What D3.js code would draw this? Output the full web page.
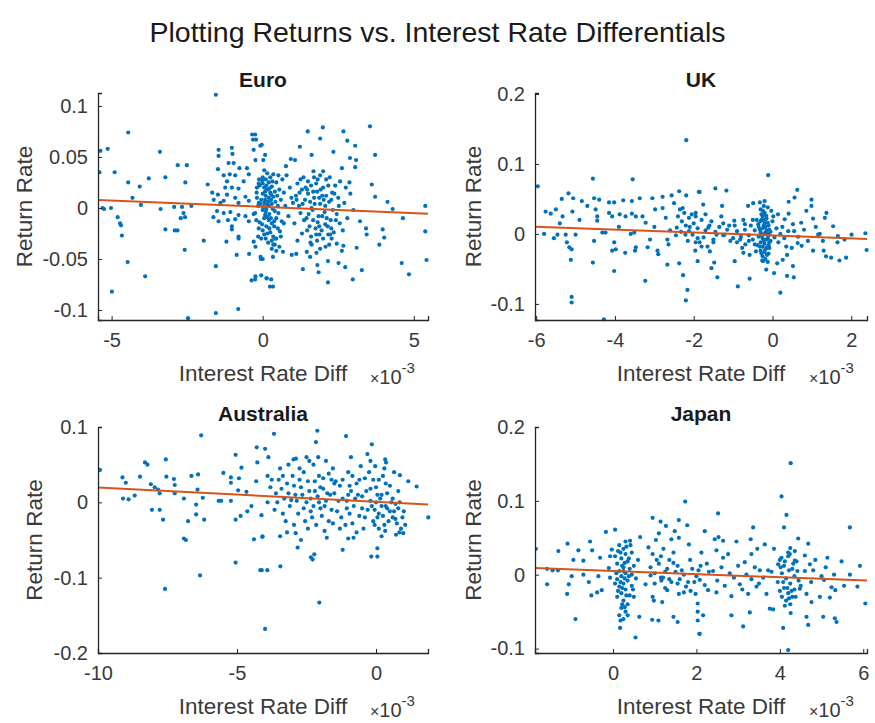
<!DOCTYPE html>
<html>
<head>
<meta charset="utf-8">
<script src="https://cdn.jsdelivr.net/npm/d3@7"></script>
<style>
  html, body { margin: 0; padding: 0; background: #fff; }
  svg { display: block; font-family: "Liberation Sans", Arial, Helvetica, sans-serif; }
</style>
</head>
<body>
<svg id="chart" width="875" height="723"></svg>
<script>
// Interest-rate differential (x, in units of 1e-3) vs. monthly return rate (y)
const euroPoints = [
  [-1.55,0.111],[-4.45,0.074],[-5.13,0.058],[-5.37,0.056],[-3.4,0.055],[-4.9,0.035],[-2.81,0.042],[-2.51,0.042],
  [-4.45,0.025],[-4.07,0.021],[-3.77,0.029],[-3.22,0.030],[-2.56,0.025],[-1.82,0.023],[-4.31,0.010],[-4.03,0.003],
  [-5.25,-0.001],[-5.02,0.0],[-3.38,-0.001],[-2.93,0.001],[-2.67,0.001],[-2.36,0.002],[-4.8,-0.009],[-4.72,-0.015],
  [-4.69,-0.017],[-4.66,-0.027],[-2.62,-0.005],[-2.71,-0.010],[-2.57,-0.009],[-3.22,-0.021],[-2.91,-0.022],[-2.82,-0.022],
  [-1.95,-0.032],[-2.58,-0.041],[-4.47,-0.053],[-3.89,-0.067],[-4.99,-0.082],[-1.55,-0.057],[-1.55,-0.103],[-0.81,-0.099],
  [-0.86,-0.046],[-0.45,-0.045],[-0.06,-0.05],[-1.2,-0.033],[-0.8,-0.030],[-1.63,-0.009],[-1.67,0.015],[-5.4,0.035],
  [-5.3,0.0],[-2.47,-0.108],
  [-1.46,0.057],[-1.46,0.051],[-1.02,0.059],[-1.0,0.053],[-0.35,0.072],[-0.32,0.067],[-0.08,0.061],[-1.13,0.044],
  [-0.96,0.044],[-0.77,0.039],[-1.48,0.038],[-1.29,0.032],[-1.09,0.033],[-0.91,0.032],[-0.52,0.039],[-0.24,0.047],
  [-1.18,0.026],[-0.63,0.026],[-0.46,0.033],[-1.24,0.020],[-1.02,0.020],[-0.8,0.019],[-1.48,0.013],[-1.18,0.013],
  [-0.91,0.010],[-0.57,0.011],[-1.62,0.008],[-1.4,0.005],[-1.29,0.007],[-0.8,0.005],[-0.46,0.007],[-0.19,0.020],
  [-0.13,0.024],[-0.19,0.010],[-0.13,0.005],[-1.51,-0.003],[-1.29,-0.005],[-1.07,-0.004],[-0.8,-0.007],[-0.57,-0.008],
  [-0.3,-0.006],[-1.46,-0.013],[-1.15,-0.012],[-0.91,-0.011],[-0.46,-0.013],[-0.21,-0.012],[-1.02,-0.021],[-0.8,-0.028],
  [-1.02,-0.018],[-0.13,-0.020],[-0.15,-0.028],[-0.3,-0.033],[-0.24,-0.038],[-0.37,-0.071],[-0.24,-0.067],
  [-0.25,0.072],[-0.22,0.067],[-0.03,0.062],[0.08,0.052],[0.02,0.047],[-0.3,0.057],[0.13,-0.069],[0.24,-0.077],
  [-0.25,-0.070],[-0.05,-0.066],[-0.07,-0.048],
  [1.49,0.075],[1.99,0.079],[2.67,0.075],[3.55,0.080],[1.9,0.068],[2.8,0.066],[3.06,0.061],[1.23,0.060],
  [3.72,0.052],[2.34,0.055],[2.89,0.049],[3.09,0.047],[3.06,0.040],[1.62,0.052],[0.93,0.048],[1.07,0.047],
  [0.77,0.041],[0.52,0.032],[0.79,0.032],[2.62,0.039],[2.56,0.026],[2.87,0.025],[3.61,0.023],[3.72,0.011],
  [4.13,0.006],[4.3,-0.001],[5.38,0.002],[4.64,-0.010],[5.38,-0.023],[5.42,-0.051],[4.6,-0.054],[4.84,-0.065],
  [3.97,-0.021],[4.02,-0.029],[3.86,-0.036],[3.42,-0.020],[3.44,-0.026],[3.22,-0.013],[3.11,-0.039],[3.28,-0.061],
  [2.98,-0.070],[2.73,-0.058],[2.51,-0.054],[2.16,-0.052],[2.16,-0.073],[1.81,-0.056],[1.85,-0.063],[1.33,-0.060],
  [1.11,-0.045],[0.96,-0.046],[0.67,-0.043],[0.34,-0.048],[0.28,-0.070],[0.34,-0.077],[0.13,-0.069],[0.0,-0.050],
  [0.57,-0.023],[0.63,-0.013],[0.41,-0.030],[0.35,-0.036],[2.67,-0.037],[2.62,-0.042],[2.45,-0.035],[2.23,-0.026],
  [1.62,-0.036],[1.46,-0.043],[1.57,-0.048],
  [0.0,0.030],[0.1,0.028],[0.2,0.025],[-0.1,0.022],[0.05,0.020],[0.15,0.018],[0.3,0.021],[0.25,0.015],
  [0.0,0.014],[0.1,0.012],[0.2,0.010],[-0.05,0.008],[0.35,0.011],[0.4,0.016],[0.05,0.005],[0.15,0.003],
  [0.3,0.004],[-0.15,0.002],[0.0,-0.002],[0.1,-0.004],[0.22,-0.006],[0.4,-0.003],[0.5,0.002],[0.05,-0.010],
  [0.2,-0.012],[-0.1,-0.014],[0.3,-0.015],[0.12,-0.018],[0.45,-0.010],[0.0,-0.022],[0.25,-0.024],[0.35,-0.028],
  [0.1,-0.030],[0.18,-0.034],[0.4,-0.036],[0.3,-0.040],[0.45,-0.042],[0.55,-0.038],[0.15,0.034],[0.05,0.037],
  [0.45,0.025],[0.55,0.018],[0.6,0.008],[0.5,-0.020],[-0.2,0.015],[-0.25,-0.005],[0.25,0.030],[0.08,0.016],
  [0.28,0.008],[0.38,-0.018],[0.48,0.012],[0.0,0.024],[0.2,0.002],[-0.05,-0.030],
  [-0.02,0.027],[0.12,0.022],[0.22,0.019],[0.32,0.026],[0.08,0.008],[0.18,0.006],[0.28,0.013],[0.42,0.006],
  [-0.08,0.004],[0.02,0.001],[0.12,-0.001],[0.33,-0.001],[0.08,-0.007],[0.27,-0.010],[0.15,-0.009],[0.38,-0.013],
  [-0.02,-0.016],[0.22,-0.020],[0.05,-0.026],[0.3,-0.032],[0.15,-0.025],[0.45,-0.030],[0.52,-0.005],[-0.12,0.028],
  [0.35,0.033],[0.6,-0.028],[0.65,0.028],[0.7,-0.015],
  [1.0,0.005],[1.1,0.012],[1.2,0.002],[1.3,0.018],[1.4,0.008],[1.5,0.014],[1.6,0.022],[1.7,0.010],
  [1.8,0.016],[1.9,0.004],[2.0,0.020],[2.1,0.012],[2.2,0.006],[2.3,0.015],[1.25,-0.005],[1.45,-0.010],
  [1.65,-0.002],[1.85,-0.008],[2.05,-0.004],[2.25,-0.012],[2.45,-0.006],[1.55,-0.018],[1.75,-0.020],[1.95,-0.022],
  [2.15,-0.018],[2.35,-0.024],[1.6,-0.028],[1.8,-0.032],[2.0,-0.030],[2.2,-0.036],[1.9,-0.040],[1.7,0.030],
  [1.9,0.032],[2.1,0.028],[1.5,0.026],[1.35,0.030],[2.4,0.022],[2.5,0.010],[1.15,0.024],[1.05,-0.015],
  [1.3,-0.025],[2.55,-0.015],[1.72,0.004],[1.82,-0.014],[2.02,0.008],[1.62,0.000],[1.92,0.018],[2.12,-0.010],
  [1.42,0.020],[1.52,-0.006],[2.32,-0.002],[2.0,0.036],[1.78,-0.044],[2.28,-0.030],[1.15,-0.032],[0.9,0.020],
  [0.85,-0.008],[0.75,0.002],[0.7,0.015],[2.7,0.005],[2.8,-0.010],[2.9,0.014],[3.0,-0.002],[2.65,-0.022],[2.75,0.020],
  [1.12,0.008],[1.22,0.015],[1.32,0.004],[1.47,0.018],[1.57,0.006],[1.67,0.016],[1.77,0.024],[1.87,0.010],
  [1.97,0.012],[2.07,0.002],[2.17,0.022],[2.27,0.008],[2.37,0.014],[1.37,-0.012],[1.47,-0.022],[1.67,-0.012],
  [1.77,-0.026],[1.87,-0.018],[1.97,-0.008],[2.07,-0.016],[2.17,-0.026],[2.27,-0.020],[2.42,-0.012],[2.52,0.002],
  [1.58,-0.034],[1.88,-0.026],[2.08,-0.038],[1.68,0.036],[1.82,0.028],[2.22,0.030],[1.25,0.028],[0.95,0.010]
];

const ukPoints = [
  [-2.19,0.134],[-4.56,0.079],[-3.55,0.078],[-5.18,0.058],[-5.35,0.050],[-5.06,0.051],[-4.84,0.047],[-4.53,0.051],
  [-4.4,0.049],[-4.15,0.045],[-4.02,0.045],[-3.79,0.048],[-3.57,0.047],[-3.37,0.051],[-3.05,0.051],[-2.79,0.053],
  [-2.56,0.055],[-2.37,0.061],[-2.19,0.055],[-1.87,0.060],[-5.76,0.032],[-5.63,0.029],[-5.5,0.035],[-5.33,0.025],
  [-5.08,0.032],[-4.49,0.035],[-4.45,0.025],[-4.45,0.019],[-4.15,0.030],[-4.07,0.025],[-3.88,0.028],[-3.73,0.025],
  [-3.57,0.029],[-3.47,0.025],[-3.22,0.016],[-2.98,0.035],[-2.79,0.037],[-2.71,0.023],[-2.5,0.044],[-2.28,0.037],
  [-2.24,0.030],[-2.12,0.023],[-1.95,0.030],[-5.8,0.000],[-5.55,-0.006],[-5.46,-0.001],[-5.25,-0.001],[-5.0,-0.001],
  [-5.22,-0.012],[-5.16,-0.019],[-5.1,-0.022],[-5.12,-0.037],[-5.1,-0.090],[-5.1,-0.098],[-4.56,-0.041],[-4.53,-0.010],
  [-4.32,0.002],[-4.24,0.002],[-4.02,-0.012],[-4.07,-0.024],[-3.98,-0.022],[-4.02,-0.053],[-3.74,-0.027],[-3.6,0.000],
  [-3.51,0.002],[-3.47,-0.019],[-3.49,-0.024],[-3.23,-0.067],[-3.11,-0.008],[-3.17,-0.019],[-2.92,-0.024],[-2.9,-0.029],
  [-2.67,-0.008],[-2.64,-0.015],[-2.67,-0.044],[-2.37,-0.042],[-2.27,-0.059],[-2.16,-0.080],[-2.2,-0.095],[-2.43,0.009],
  [-2.32,0.003],[-2.21,-0.001],[-2.12,0.004],[-2.03,-0.001],[-1.95,-0.012],[-1.9,-0.039],[-1.96,-0.024],[-5.96,0.068],
  [-4.28,-0.122],
  [-0.11,0.084],[-1.85,0.060],[-1.45,0.065],[-1.17,0.062],[0.63,0.063],[0.56,0.052],[0.41,0.046],[0.99,0.049],
  [0.99,0.040],[0.86,0.033],[1.37,0.030],[1.33,0.023],[1.03,0.022],[1.54,0.011],[-1.28,0.040],[-1.76,0.042],
  [-1.25,0.015],[-0.97,0.019],[-0.96,0.012],[-0.74,0.020],[-0.62,0.040],[-0.49,0.044],[-0.2,0.047],[-0.03,0.033],
  [0.14,0.028],[0.31,0.021],[0.41,0.029],[0.52,0.014],[0.73,0.016],[-1.63,0.009],[-1.5,-0.008],[-1.42,-0.001],
  [-1.22,-0.001],[-1.07,-0.010],[-0.82,-0.008],[-0.69,-0.015],[-0.77,-0.020],[-1.59,-0.025],[-1.48,-0.041],[-1.55,-0.049],
  [-1.4,-0.062],[-0.88,-0.075],[-0.58,-0.064],[-0.96,-0.039],[-0.74,-0.027],[-0.58,-0.030],[-0.24,-0.039],[-0.16,-0.051],
  [0.04,-0.056],[0.2,-0.084],[0.12,-0.042],[0.26,-0.037],[0.37,-0.060],[0.54,-0.062],[0.52,-0.046],[0.37,-0.030],
  [0.49,-0.020],[0.64,-0.013],[0.74,-0.017],[1.03,-0.024],[1.3,-0.024],[1.36,-0.032],[1.49,-0.034],[1.7,-0.038],
  [1.87,-0.034],[1.83,-0.008],[2.01,-0.001],[2.36,0.001],[2.39,-0.023],[1.28,-0.010],[1.16,-0.001],[1.66,-0.003],
  [1.65,-0.012],
  [-0.3,0.035],[-0.2,0.030],[-0.25,0.025],[-0.15,0.022],[-0.3,0.018],[-0.2,0.015],[-0.1,0.012],[-0.35,0.010],
  [-0.25,0.008],[-0.15,0.005],[-0.05,0.003],[-0.3,0.002],[-0.2,0.000],[-0.1,-0.002],[-0.35,-0.004],[-0.25,-0.006],
  [-0.15,-0.008],[-0.05,-0.010],[-0.3,-0.012],[-0.2,-0.014],[-0.1,-0.016],[-0.25,-0.018],[-0.15,-0.020],[-0.3,-0.024],
  [-0.2,-0.026],[-0.1,-0.028],[-0.25,-0.032],[-0.18,-0.036],[-0.22,0.040],[-0.12,0.038],[-0.4,0.020],[-0.45,0.005],
  [-0.5,-0.008],[-0.55,0.012],[0.0,0.018],[0.05,-0.005],[0.1,0.008],[-0.6,-0.002],[-0.7,0.006],[-0.8,-0.004],
  [-0.9,0.004],[-1.0,-0.006],[0.2,0.000],[0.3,-0.006],[0.4,0.004],[-0.28,0.028],[-0.18,0.010],[-0.08,-0.020],
  [-0.38,-0.016],[-0.32,0.045],[-0.12,-0.040],[-0.42,-0.025],[0.02,0.025],
  [-0.28,0.020],[-0.22,0.012],[-0.12,0.016],[-0.32,0.006],[-0.18,0.002],[-0.08,0.006],[-0.28,-0.002],[-0.22,-0.010],
  [-0.12,-0.006],[-0.32,-0.018],[-0.18,-0.022],[-0.08,-0.012],[-0.28,-0.028],[-0.14,-0.030],[-0.24,0.033],[-0.16,0.026],
  [-0.26,-0.038],[-0.2,0.020],[-0.1,0.000],[-0.36,0.014],
  [-1.1,0.012],[-0.9,-0.012],[-0.7,0.014],[-0.6,-0.010],[-0.5,0.020],[-0.45,-0.015],[0.15,-0.012],[0.25,0.010],
  [0.35,-0.018],[0.55,0.004],[0.65,-0.004],[0.8,0.006],[0.9,-0.010],[1.1,0.010],[1.2,0.000],
  [-2.0,0.015],[-1.9,0.008],[-1.8,0.020],[-1.7,0.005],[-1.6,0.012],[-1.75,-0.005],[-1.85,-0.012],[-1.65,-0.018],
  [-2.1,0.010],[-1.95,0.025],[-1.55,0.018],[-1.45,0.003],[-1.35,0.010],[-1.25,-0.002],[-1.15,0.006],[-2.3,0.018],
  [-2.4,0.025],[-1.9,-0.006],
  [-2.6,0.005],[-2.45,-0.002],[-2.2,0.012],[-2.05,0.028],[-1.8,-0.018],[-1.7,0.028],[-1.5,-0.012],[-1.3,0.025],
  [-2.35,0.035],[-2.15,-0.010],[-3.0,0.010],[-3.3,0.025],[-3.9,0.010],[-4.7,0.040],[-4.9,0.020],[-5.4,0.015]
];

const ausPoints = [
  [-6.29,0.089],[-7.56,0.057],[-8.31,0.053],[-8.22,0.050],[-9.93,0.043],[-9.12,0.033],[-9.0,0.026],[-8.49,0.034],
  [-8.1,0.024],[-7.96,0.020],[-7.84,0.017],[-7.54,0.034],[-7.27,0.031],[-7.24,0.023],[-6.64,0.035],[-6.4,0.037],
  [-6.42,0.017],[-5.49,0.039],[-5.22,0.033],[-5.22,0.026],[-4.93,0.032],[-4.84,0.046],[-5.05,0.063],[-4.29,0.073],
  [-4.27,0.053],[-9.1,0.005],[-8.9,0.004],[-8.68,0.009],[-7.78,0.012],[-7.24,0.012],[-6.91,0.005],[-6.23,0.006],
  [-6.47,-0.003],[-5.66,0.002],[-5.57,0.002],[-5.22,0.002],[-4.96,0.016],[-4.66,0.014],[-8.06,-0.010],[-7.78,-0.010],
  [-7.66,-0.023],[-6.47,-0.016],[-6.76,-0.025],[-6.18,-0.023],[-6.91,-0.048],[-6.84,-0.050],[-5.05,-0.023],[-4.87,-0.018],
  [-4.63,-0.012],[-4.48,-0.005],[-4.12,-0.017],[-4.39,-0.049],[-4.09,-0.046],[-5.05,-0.080],[-4.16,-0.090],[-6.33,-0.097],
  [-7.59,-0.115],[-3.99,-0.168],[-4.31,0.028],
  [-3.67,0.091],[-2.11,0.095],[-1.08,0.088],[-2.16,0.080],[-0.15,0.077],[-0.31,0.064],[-3.99,0.071],[-3.87,0.060],
  [-2.97,0.057],[-2.88,0.058],[-2.4,0.055],[-2.08,0.060],[0.33,0.057],[0.36,0.053],[-0.03,0.048],[0.86,0.036],
  [1.16,0.028],[1.46,0.021],[1.88,-0.020],[-0.17,-0.072],[0.05,-0.072],[0.05,-0.061],[-1.2,-0.063],[-2.28,-0.076],
  [-2.34,-0.073],[-2.22,-0.069],[-2.82,-0.060],[-3.44,-0.085],[-3.91,-0.090],[-4.11,-0.090],[-2.04,-0.133],[-4.08,-0.045],
  [-3.45,-0.045],[-1.77,-0.047],[-0.81,-0.047],[0.84,-0.040],[0.98,-0.041],[0.72,-0.043],[0.33,-0.038],[-2.89,-0.041],
  [-3.8,0.020],[-3.6,0.012],[-3.5,0.030],[-3.4,0.018],[-3.3,0.005],[-3.2,0.025],[-3.1,-0.005],[-3.0,0.035],
  [-2.9,0.010],[-2.8,-0.015],[-2.7,0.020],[-2.6,0.040],[-2.5,0.000],[-2.4,0.015],[-2.3,-0.020],[-2.2,0.028],
  [-2.1,0.008],[-2.0,-0.008],[-1.9,0.018],[-1.8,0.002],[-1.7,-0.025],[-1.6,0.030],[-1.5,0.012],[-1.4,-0.012],
  [-1.3,0.022],[-1.2,0.005],[-1.1,-0.030],[-1.0,0.040],[-0.9,0.015],[-0.8,-0.005],[-0.7,0.025],[-0.6,-0.018],
  [-0.5,0.008],[-0.4,0.032],[-0.3,-0.010],[-0.2,0.018],[-0.1,-0.025],[0.0,0.000],[0.1,-0.015],[0.2,0.010],
  [0.3,-0.030],[0.4,-0.008],[0.5,0.022],[0.6,-0.020],[0.7,-0.002],[0.8,0.015],[0.9,-0.035],[1.0,-0.012],
  [-0.05,-0.010],[0.05,-0.020],[0.15,0.005],[-0.15,-0.005],[0.25,-0.018],[0.35,-0.005],[0.45,-0.025],[0.55,0.000],
  [0.65,-0.012],[0.75,-0.028],[-2.15,-0.030],[-2.45,-0.035],[-1.85,-0.038],[-1.55,0.045],[-2.75,0.045],[-3.25,-0.025],
  [-3.65,-0.010],[-3.9,0.000],[-1.25,-0.020],[-0.85,0.035],[-0.45,-0.035],[-2.05,0.035],[-1.65,0.010],[-2.35,0.005],
  [-2.55,-0.025],[-1.05,0.002],[-0.65,0.010],[-0.25,0.040],[0.1,0.030],[0.3,0.045],[-2.95,-0.030],[-3.45,0.045],
  [-2.25,0.050],[-1.45,0.028],[-1.95,-0.018],[-0.95,-0.015],[-0.55,0.048],[0.0,0.020],[-3.15,0.050],
  [-3.75,0.030],[-3.55,0.000],[-3.35,0.035],[-3.15,0.012],[-2.95,0.022],[-2.85,0.002],[-2.65,0.010],[-2.45,0.028],
  [-2.35,-0.012],[-2.2,0.015],[-2.05,0.000],[-1.9,0.032],[-1.75,0.012],[-1.6,-0.010],[-1.5,0.025],[-1.35,0.002],
  [-1.2,0.030],[-1.05,-0.008],[-0.95,0.022],[-0.75,0.005],[-0.6,0.030],[-0.5,-0.008],[-0.35,0.015],[-0.2,0.002],
  [-0.1,0.030],[0.05,0.010],[0.2,-0.005],[0.35,0.025],[0.5,-0.012],[0.6,0.005],[0.7,-0.022],[0.85,0.000],
  [0.95,-0.020],[-0.05,-0.030],[0.1,-0.035],[-2.6,-0.008],[-2.0,0.020],[-1.85,-0.005],[-1.3,-0.035],[-0.85,-0.028],
  [-2.75,0.030],[-3.35,-0.015],[-1.7,0.038],[-1.0,0.010],[-0.4,-0.020],[0.25,0.035],[-3.05,0.003],[-2.25,-0.005],
  [-1.55,-0.028],[-0.7,-0.040],[0.4,0.012],[0.8,-0.008],[1.05,-0.030],[-3.9,0.035],[-2.5,0.060],[-1.8,0.055],
  [-0.9,0.060],[-0.2,0.055],[-3.2,-0.040],[-2.7,-0.050],[-1.0,-0.048],[0.2,-0.045],[0.65,0.040]
];

const jpnPoints = [
  [1.73,0.099],[0.95,0.077],[1.14,0.072],[1.27,0.066],[1.58,0.074],[1.78,0.067],[1.1,0.056],[1.48,0.059],
  [-0.17,0.058],[0.05,0.061],[-0.55,0.045],[-0.83,0.033],[-1.09,0.042],[-1.31,0.032],[-0.71,0.019],[-0.95,0.020],
  [-0.5,0.033],[-0.31,0.023],[-0.03,0.034],[-0.07,0.025],[0.41,0.046],[0.65,0.051],[0.85,0.037],[1.03,0.047],
  [1.21,0.035],[1.4,0.048],[1.58,0.050],[1.82,0.041],[-1.58,0.008],[-1.45,0.006],[-1.32,0.006],[-0.99,-0.002],
  [-0.71,0.000],[-0.35,-0.002],[-0.1,0.009],[-1.58,-0.013],[-1.06,-0.013],[-0.58,-0.010],[-0.07,-0.004],[-1.1,-0.026],
  [-0.52,-0.028],[-0.38,-0.024],[-0.27,-0.021],[-0.9,-0.060],[0.17,-0.072],[0.54,-0.085],[0.63,-0.057],[0.94,-0.061],
  [1.09,-0.062],[1.45,-0.057],[1.55,-0.064],[2.03,-0.062],[2.07,-0.080],[0.98,-0.035],[0.95,-0.030],[1.18,-0.037],
  [0.78,-0.013],[0.9,-0.001],[1.16,-0.008],[1.3,-0.021],[1.58,-0.026],[1.7,-0.024],[1.86,-0.022],[1.98,-0.026],
  [2.03,-0.039],[2.03,-0.050],[-1.85,0.035],
  [0.15,0.040],[0.25,0.035],[0.3,0.028],[0.2,0.022],[0.35,0.018],[0.1,0.015],[0.25,0.010],[0.4,0.008],
  [0.15,0.005],[0.3,0.002],[0.2,-0.002],[0.1,-0.006],[0.35,-0.008],[0.25,-0.012],[0.15,-0.016],[0.3,-0.020],
  [0.2,-0.025],[0.4,-0.028],[0.1,-0.030],[0.25,-0.035],[0.35,-0.040],[0.2,-0.045],[0.3,-0.050],[0.15,-0.055],
  [0.25,-0.060],[0.3,0.045],[0.45,0.030],[0.45,0.000],[0.45,-0.015],[0.05,0.025],[0.05,-0.012],[0.5,0.012],
  [0.55,-0.005],[0.5,-0.030],[0.6,0.020],[0.18,0.030],[0.28,-0.005],[0.38,0.022],[0.22,-0.040],
  [0.12,0.032],[0.22,0.012],[0.32,0.038],[0.18,-0.010],[0.28,0.016],[0.38,-0.002],[0.12,-0.022],[0.32,-0.028],
  [0.22,-0.018],[0.28,-0.044],[0.18,-0.062],[0.35,-0.055],[0.42,0.040],[0.08,0.002],[0.48,-0.020],[0.25,0.005],
  [0.9,0.010],[1.0,0.002],[1.1,0.015],[1.2,-0.004],[1.3,0.008],[1.4,-0.010],[1.5,0.004],[1.6,-0.006],
  [1.0,-0.012],[1.15,0.025],[1.35,0.020],[1.55,0.012],[1.7,0.000],[1.8,-0.010],[1.9,0.008],[2.0,-0.002],
  [2.1,0.012],[2.2,-0.014],[2.3,0.004],[1.25,-0.018],[0.95,0.028],[1.45,0.030],
  [1.05,0.020],[1.25,0.004],[1.45,0.016],[1.65,0.006],[1.85,0.020],[2.05,0.006],[1.35,-0.006],[1.55,-0.012],
  [1.75,-0.016],[1.95,-0.010],[1.15,-0.004],[2.25,0.015],[2.4,0.005],[2.6,0.010],[2.8,0.002],[3.0,0.012],
  [3.2,0.000],[3.4,0.010],[3.6,-0.004],[3.8,0.004],[2.5,-0.008],[2.9,-0.004],[3.1,-0.020],[3.5,-0.012],
  [4.26,0.151],[4.04,0.106],[4.16,0.081],[4.1,0.064],[5.68,0.064],[2.52,0.083],[3.36,0.064],[4.44,0.049],
  [4.68,0.042],[2.2,0.059],[2.44,0.048],[2.53,0.051],[2.64,0.046],[2.96,0.045],[3.3,0.048],[3.46,0.035],
  [3.64,0.041],[3.86,0.035],[2.12,0.030],[2.48,0.033],[2.64,0.023],[2.76,0.028],[3.16,0.017],[3.32,0.028],
  [3.52,0.006],[3.72,0.006],[3.96,0.014],[4.04,0.023],[4.24,0.028],[4.36,0.019],[4.36,0.032],[4.6,0.026],
  [4.72,0.014],[4.8,0.006],[5.14,0.023],[5.48,0.018],[5.92,0.012],[5.06,-0.007],[5.24,-0.017],[5.33,-0.021],
  [5.54,-0.015],[5.68,0.000],[5.86,-0.016],[6.05,-0.039],[2.08,-0.007],[2.28,-0.021],[2.48,-0.024],[2.68,-0.015],
  [2.84,-0.029],[3.04,-0.013],[3.24,-0.026],[3.32,-0.006],[3.44,-0.016],[3.68,-0.026],[3.76,-0.046],[3.84,-0.047],
  [2.84,-0.055],[2.16,-0.055],[2.08,-0.080],[3.12,-0.070],[3.28,-0.051],[4.08,-0.072],[4.26,-0.052],[4.64,-0.057],
  [4.68,-0.068],[4.76,-0.037],[5.04,-0.057],[5.32,-0.059],[5.36,-0.064],[4.96,-0.030],[5.2,-0.031],[4.48,-0.019],
  [4.64,-0.026],[4.2,-0.102],
  [4.0,0.020],[4.1,0.012],[4.2,0.025],[4.3,0.008],[4.4,0.018],[4.05,0.002],[4.15,-0.005],[4.25,-0.012],
  [4.35,-0.002],[4.1,-0.018],[4.2,-0.025],[4.3,-0.030],[4.0,-0.022],[4.15,-0.035],[4.25,-0.040],[4.35,-0.020],
  [3.95,-0.010],[4.45,-0.008],[4.05,-0.030],[4.2,0.030],
  [4.12,0.018],[4.22,0.006],[4.32,0.015],[4.08,-0.010],[4.18,-0.018],[4.28,-0.022],[4.38,-0.030],[4.12,-0.042],
  [4.22,-0.032],[4.02,0.010],[4.42,0.005],[4.25,0.036],[4.5,-0.015],[4.6,0.005],[4.75,-0.010],[4.85,0.020],
  [5.0,-0.002],[5.1,0.010],[5.3,0.000]
];

// Least-squares fit lines, as [intercept, slope] in the same units as the points
const euroFit = [0.0011, -0.00125];
const ukFit = [-0.0021, -0.00207];
const ausFit = [0.0008, -0.00188];
const jpnFit = [0.0051, -0.00213];

// Axis limits and ticks (x in units of 1e-3)
const euroXLim = [-5.45, 5.47], euroYLim = [-0.1098, 0.1127];
const ukXLim = [-6.03, 2.40], ukYLim = [-0.123, 0.2014];
const ausXLim = [-10.0, 1.87], ausYLim = [-0.2, 0.1];
const jpnXLim = [-1.87, 6.09], jpnYLim = [-0.106, 0.2];

const euroXTicks = [-5, 0, 5], euroYTicks = [-0.1, -0.05, 0, 0.05, 0.1];
const ukXTicks = [-6, -4, -2, 0, 2], ukYTicks = [-0.1, 0, 0.1, 0.2];
const ausXTicks = [-10, -5, 0], ausYTicks = [-0.2, -0.1, 0, 0.1];
const jpnXTicks = [0, 2, 4, 6], jpnYTicks = [-0.1, 0, 0.1, 0.2];

const panelTitles = ["Euro", "UK", "Australia", "Japan"];
const chartTitle = "Plotting Returns vs. Interest Rate Differentials";
const xLabel = "Interest Rate Diff";
const yLabel = "Return Rate";
const xExponent = "-3";

const dotColor = "#0072BD";
const fitColor = "#D95319";
const axisColor = "#262626";

const svg = d3.select("#chart");

svg.append("text")
  .attr("x", 437.5).attr("y", 42)
  .attr("text-anchor", "middle")
  .attr("font-size", 28.5)
  .attr("fill", "#1a1a1a")
  .text(chartTitle);

const panels = [
  { title: panelTitles[0], pts: euroPoints, fit: euroFit, xl: euroXLim, yl: euroYLim, xt: euroXTicks, yt: euroYTicks,
    box: { x0: 98, x1: 428, y0: 93, y1: 320 }, ylabX: 32 },
  { title: panelTitles[1], pts: ukPoints, fit: ukFit, xl: ukXLim, yl: ukYLim, xt: ukXTicks, yt: ukYTicks,
    box: { x0: 535, x1: 867, y0: 93, y1: 320 }, ylabX: 481 },
  { title: panelTitles[2], pts: ausPoints, fit: ausFit, xl: ausXLim, yl: ausYLim, xt: ausXTicks, yt: ausYTicks,
    box: { x0: 98, x1: 428, y0: 427, y1: 653 }, ylabX: 42 },
  { title: panelTitles[3], pts: jpnPoints, fit: jpnFit, xl: jpnXLim, yl: jpnYLim, xt: jpnXTicks, yt: jpnYTicks,
    box: { x0: 535, x1: 867, y0: 427, y1: 653 }, ylabX: 481 }
];

panels.forEach(p => {
  const b = p.box;
  const x = d3.scaleLinear().domain(p.xl).range([b.x0, b.x1]);
  const y = d3.scaleLinear().domain(p.yl).range([b.y1, b.y0]);
  const g = svg.append("g");

  const clipId = "clip-" + p.title;
  svg.append("clipPath").attr("id", clipId)
    .append("rect").attr("x", b.x0).attr("y", b.y0 - 4)
    .attr("width", b.x1 - b.x0 + 4).attr("height", b.y1 - b.y0 + 8);

  // scatter
  g.append("g").attr("clip-path", `url(#${clipId})`)
    .selectAll("circle").data(p.pts).join("circle")
    .attr("cx", d => x(d[0]))
    .attr("cy", d => y(d[1]))
    .attr("r", 2.1)
    .attr("fill", dotColor);

  // fitted line
  const xs = p.xl;
  g.append("line")
    .attr("x1", x(xs[0])).attr("y1", y(p.fit[0] + p.fit[1] * xs[0]))
    .attr("x2", x(xs[1])).attr("y2", y(p.fit[0] + p.fit[1] * xs[1]))
    .attr("stroke", fitColor).attr("stroke-width", 2);

  // axes (ticks point inward)
  const xAxis = d3.axisBottom(x).tickValues(p.xt).tickSize(-4).tickPadding(13).tickFormat(d => String(d));
  const yAxis = d3.axisLeft(y).tickValues(p.yt).tickSize(-4).tickPadding(10).tickFormat(d => String(d));

  const gx = g.append("g").attr("transform", `translate(0,${b.y1})`).call(xAxis);
  const gy = g.append("g").attr("transform", `translate(${b.x0},0)`).call(yAxis);
  [gx, gy].forEach(a => {
    a.select(".domain").attr("stroke", axisColor).attr("stroke-width", 1.3);
    a.selectAll(".tick line").attr("stroke", axisColor).attr("stroke-width", 1);
    a.selectAll(".tick text")
      .attr("font-size", 20)
      .attr("font-family", "Liberation Sans, Arial, sans-serif")
      .attr("fill", "#3a3a3a");
  });
  gx.selectAll(".tick text").attr("dy", "0.71em");

  // panel title
  g.append("text")
    .attr("x", (b.x0 + b.x1) / 2).attr("y", b.y0 - 6)
    .attr("text-anchor", "middle")
    .attr("font-size", 21).attr("font-weight", "bold")
    .attr("fill", "#1a1a1a")
    .text(p.title);

  // axis labels
  g.append("text")
    .attr("x", (b.x0 + b.x1) / 2).attr("y", b.y1 + 61)
    .attr("text-anchor", "middle")
    .attr("font-size", 22.5)
    .attr("fill", "#3a3a3a")
    .text(xLabel);

  g.append("text")
    .attr("transform", `translate(${p.ylabX},${(b.y0 + b.y1) / 2}) rotate(-90)`)
    .attr("text-anchor", "middle")
    .attr("font-size", 22.5)
    .attr("fill", "#3a3a3a")
    .text(yLabel);

  // x exponent marker
  const ex = g.append("text")
    .attr("x", b.x1 - 58).attr("y", b.y1 + 64)
    .attr("font-size", 20)
    .attr("fill", "#3a3a3a");
  ex.append("tspan").attr("font-size", 16).text("\u00d7");
  ex.append("tspan").text("10");
  ex.append("tspan").attr("dy", -11).attr("font-size", 15).text(xExponent);
});
</script>
</body>
</html>
